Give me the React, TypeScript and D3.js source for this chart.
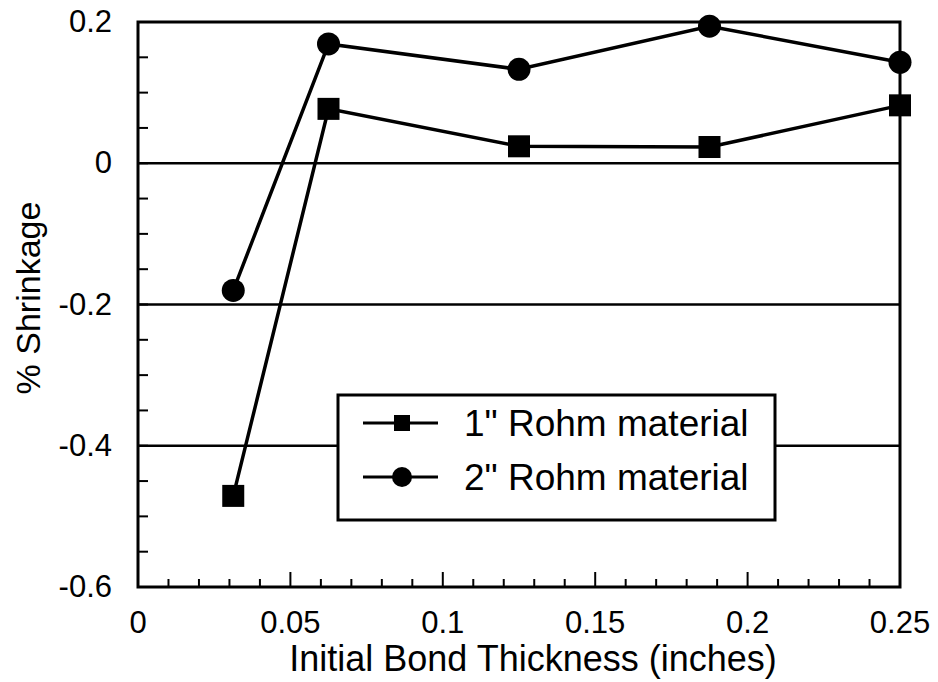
import React from "react";
import * as d3 from "d3";

const xValues = [0.03125, 0.0625, 0.125, 0.1875, 0.25];
const rohm1 = [-0.471, 0.077, 0.024, 0.023, 0.082];
const rohm2 = [-0.18, 0.169, 0.133, 0.194, 0.143];
const seriesNames = ['1" Rohm material', '2" Rohm material'];
const xTicks = [0, 0.05, 0.1, 0.15, 0.2, 0.25];
const xTickLabels = ["0", "0.05", "0.1", "0.15", "0.2", "0.25"];
const yTicks = [0.2, 0, -0.2, -0.4, -0.6];
const yTickLabels = ["0.2", "0", "-0.2", "-0.4", "-0.6"];
const gridValues = [0, -0.2, -0.4];

const W = 938, H = 682;
const L = 138, R = 900, T = 22, B = 587;
const FONT = "'Liberation Sans', Arial, Helvetica, sans-serif";

export default function App() {
  const x = d3.scaleLinear().domain([0, 0.25]).range([L, R]);
  const y = d3.scaleLinear().domain([-0.6, 0.2]).range([B, T]);
  const line = d3.line<[number, number]>().x(d => x(d[0])).y(d => y(d[1]));
  const s1 = xValues.map((v, i) => [v, rohm1[i]] as [number, number]);
  const s2 = xValues.map((v, i) => [v, rohm2[i]] as [number, number]);
  const xMinor = d3.range(0, 26).map(i => i * 0.01);
  const yMinor = d3.range(0, 17).map(i => -0.6 + i * 0.05);

  const legX = 338, legY = 395, legW = 437, legH = 125;
  const row1 = 423, row2 = 477;

  return (
    <svg width={W} height={H} style={{ position: "absolute", left: 0, top: 0, background: "#fff" }}
      fontFamily={FONT}>
      <rect x={0} y={0} width={W} height={H} fill="#fff" />
      {gridValues.map(g => (
        <line key={g} x1={L} x2={R} y1={y(g)} y2={y(g)} stroke="#000" strokeWidth={2.5} />
      ))}
      {xMinor.map((v, i) => {
        const major = i % 5 === 0;
        return <line key={"xm" + i} x1={x(v)} x2={x(v)} y1={B} y2={B - (major ? 15 : 8)} stroke="#000" strokeWidth={2} />;
      })}
      {yMinor.map((v, i) => (
        <line key={"ym" + i} x1={L} x2={L + 10} y1={y(v)} y2={y(v)} stroke="#000" strokeWidth={2} />
      ))}
      <rect x={L} y={T} width={R - L} height={B - T} fill="none" stroke="#000" strokeWidth={3} />
      <path d={line(s1) || ""} fill="none" stroke="#000" strokeWidth={3.5} />
      <path d={line(s2) || ""} fill="none" stroke="#000" strokeWidth={3.5} />
      {s1.map((d, i) => (
        <rect key={"s" + i} x={x(d[0]) - 11} y={y(d[1]) - 11} width={22} height={22} fill="#000" />
      ))}
      {s2.map((d, i) => (
        <circle key={"c" + i} cx={x(d[0])} cy={y(d[1])} r={11.5} fill="#000" />
      ))}
      {xTicks.map((v, i) => (
        <text key={"xt" + i} x={x(v)} y={633} textAnchor="middle" fontSize={31}>{xTickLabels[i]}</text>
      ))}
      {yTicks.map((v, i) => (
        <text key={"yt" + i} x={112} y={y(v) + 10} textAnchor="end" fontSize={31}>{yTickLabels[i]}</text>
      ))}
      <text x={533} y={671} textAnchor="middle" fontSize={36}>Initial Bond Thickness (inches)</text>
      <text transform={`translate(40,298) rotate(-90)`} textAnchor="middle" fontSize={34}>% Shrinkage</text>
      <rect x={legX} y={legY} width={legW} height={legH} fill="#fff" stroke="#000" strokeWidth={3} />
      <line x1={363} x2={438} y1={row1} y2={row1} stroke="#000" strokeWidth={3} />
      <rect x={394} y={row1 - 8} width={16} height={16} fill="#000" />
      <text x={464} y={row1 + 13} fontSize={37}>{seriesNames[0]}</text>
      <line x1={363} x2={438} y1={row2} y2={row2} stroke="#000" strokeWidth={3} />
      <circle cx={402} cy={row2} r={10} fill="#000" />
      <text x={464} y={row2 + 13} fontSize={37}>{seriesNames[1]}</text>
    </svg>
  );
}
